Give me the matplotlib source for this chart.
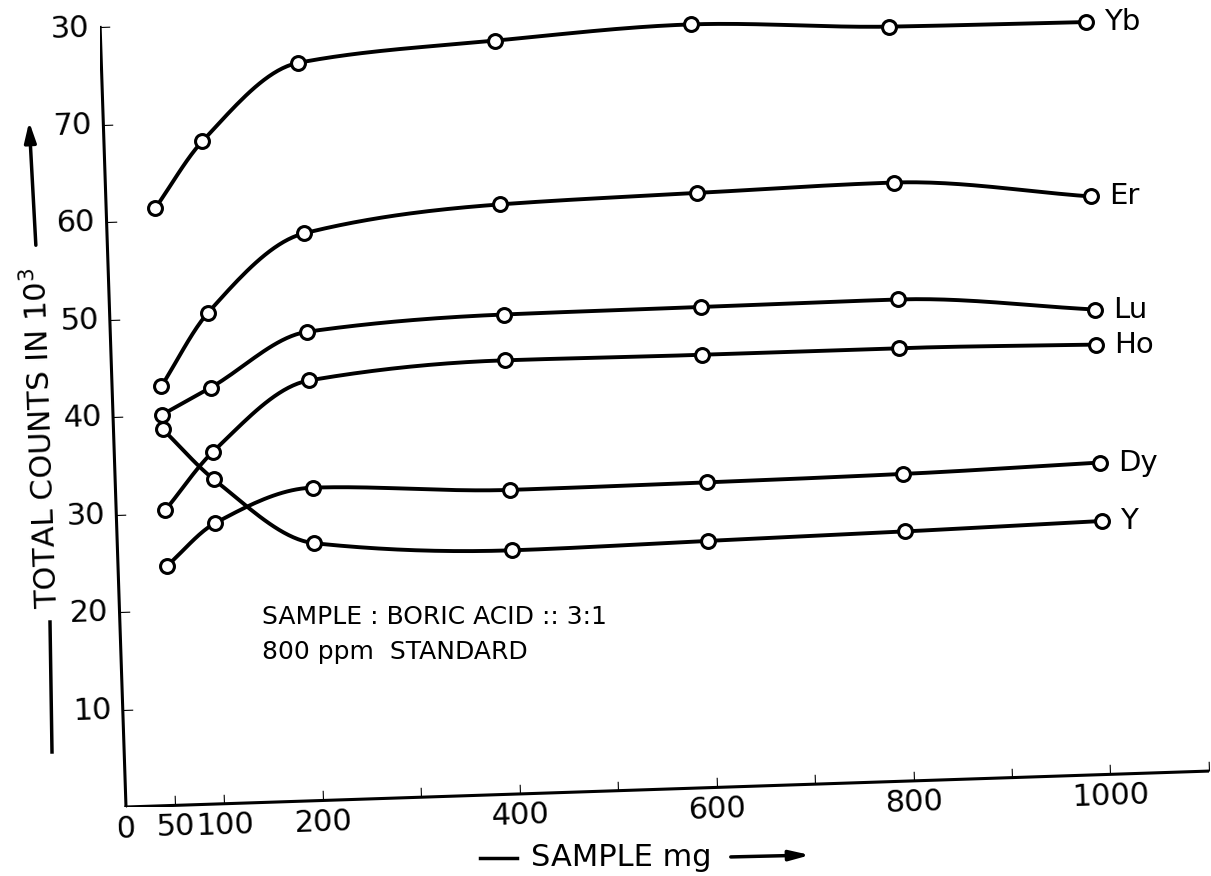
import numpy as np
import matplotlib
matplotlib.use("Agg")
import matplotlib.pyplot as plt
from matplotlib.transforms import Affine2D
import mpl_toolkits.axisartist.floating_axes as floating_axes
from mpl_toolkits.axisartist.grid_finder import FixedLocator, DictFormatter

# values (counts in 10^3)
sample_mg = [50, 100, 200, 400, 600, 800, 1000]
yb = [61.3, 68.0, 75.7, 77.3, 78.3, 77.4, 77.2]
er = [43.0, 50.4, 58.2, 60.5, 61.0, 61.4, 59.3]
lu = [40.1, 42.7, 48.1, 49.2, 49.3, 49.4, 47.7]
ho = [30.3, 36.1, 43.1, 44.5, 44.4, 44.4, 44.1]
dy = [24.6, 28.8, 32.1, 31.2, 31.3, 31.5, 32.0]
y_el = [38.6, 33.3, 26.4, 25.0, 25.3, 25.6, 26.0]
series_names = ["Yb", "Er", "Lu", "Ho", "Dy", "Y"]

x_ticks = [0, 50, 100, 200, 300, 400, 500, 600, 700, 800, 900, 1000, 1100]
x_tick_labels = {0: "0", 50: "50", 100: "100", 200: "200", 400: "400",
                 600: "600", 800: "800", 1000: "1000"}
y_ticks = [10, 20, 30, 40, 50, 60, 70, 80]
# top label is printed as "30" in the scan
y_tick_labels = {10: "10", 20: "20", 30: "30", 40: "40", 50: "50",
                 60: "60", 70: "70", 80: "30"}

W, H = 1211, 876
ORIGIN = (126, 807)  # pixel of (0, 0), from top-left
ROT = 1.9            # the scan is turned a little


def smooth(x, y, n=200):
    # monotone cubic (pchip) just to draw the hand-drawn curve through the points
    x = np.asarray(x, float)
    y = np.asarray(y, float)
    h = np.diff(x)
    d = np.diff(y) / h
    m = np.zeros_like(y)
    for k in range(1, len(x) - 1):
        if d[k - 1] * d[k] > 0:
            w1 = 2 * h[k] + h[k - 1]
            w2 = h[k] + 2 * h[k - 1]
            m[k] = (w1 + w2) / (w1 / d[k - 1] + w2 / d[k])
    m[0] = d[0]
    m[-1] = d[-1]
    xs = np.linspace(x[0], x[-1], n)
    i = np.clip(np.searchsorted(x, xs) - 1, 0, len(x) - 2)
    t = (xs - x[i]) / h[i]
    h00 = 2 * t**3 - 3 * t**2 + 1
    h10 = t**3 - 2 * t**2 + t
    h01 = -2 * t**3 + 3 * t**2
    h11 = t**3 - t**2
    ys = h00 * y[i] + h10 * h[i] * m[i] + h01 * y[i + 1] + h11 * h[i] * m[i + 1]
    return xs, ys


fig = plt.figure(figsize=(W / 100, H / 100), dpi=100)
plt.rcParams["font.family"] = "DejaVu Sans"

tr = Affine2D().scale(0.985, 9.75).rotate_deg(ROT)
grid_helper = floating_axes.GridHelperCurveLinear(
    tr, extremes=(0, 1100, 0, 80),
    grid_locator1=FixedLocator(x_ticks),
    grid_locator2=FixedLocator(y_ticks),
    tick_formatter1=DictFormatter(x_tick_labels),
    tick_formatter2=DictFormatter(y_tick_labels),
)

corners = tr.transform([[0, 0], [1100, 0], [0, 80], [1100, 80]])
xmin, ymin = corners.min(0)
xmax, ymax = corners.max(0)
rect = [(ORIGIN[0] + xmin) / W, (H - ORIGIN[1] + ymin) / H,
        (xmax - xmin) / W, (ymax - ymin) / H]
ax = fig.add_axes(rect, axes_class=floating_axes.FloatingAxes,
                  grid_helper=grid_helper)
# drop the 2% margin floating axes adds, so 1 unit = 1 pixel
ax.set_xlim(xmin, xmax)
ax.set_ylim(ymin, ymax)
ax.axis["top"].set_visible(False)
ax.axis["right"].set_visible(False)
for side, pad in [("bottom", 6), ("left", 8)]:
    ax.axis[side].line.set_linewidth(2.2)
    ax.axis[side].major_ticks.set_ticksize(7)
    ax.axis[side].major_ticks.set_linewidth(2)
    ax.axis[side].major_ticklabels.set_fontsize(22)
    ax.axis[side].major_ticklabels.set_pad(pad)

aux = ax.get_aux_axes(tr)
for name, vals in zip(series_names, [yb, er, lu, ho, dy, y_el]):
    xs, ys = smooth(sample_mg, vals)
    aux.plot(xs, ys, color="black", lw=2.8, solid_capstyle="round")
    aux.plot(sample_mg, vals, "o", ms=10, mfc="white", mec="black", mew=2.2)
    aux.annotate(name, (sample_mg[-1], vals[-1]), xytext=(13, 0),
                 textcoords="offset points", va="center", ha="left",
                 fontsize=21, annotation_clip=False)


def px(x, y):
    return (x, H - y)


# y label with its line and arrow
fig.text(48 / W, 1 - 608 / H, "TOTAL COUNTS IN 10$^3$", rotation=92,
         rotation_mode="anchor", ha="left", va="center", fontsize=22)
fig.add_artist(plt.Line2D([52 / W, 50 / W], [1 - 752 / H, 1 - 622 / H],
                          color="black", lw=2.5))
ax.annotate("", xy=px(29, 119), xytext=px(36, 248), xycoords="figure pixels",
            textcoords="figure pixels", annotation_clip=False,
            arrowprops=dict(arrowstyle="-|>,head_length=1.2,head_width=0.35",
                            lw=2.5, color="black"))

# x label with its line and arrow
fig.text(621 / W, 1 - 858 / H, "SAMPLE mg", ha="center", va="center",
         fontsize=22)
fig.add_artist(plt.Line2D([480 / W, 517 / W], [1 - 858 / H, 1 - 858 / H],
                          color="black", lw=2.5))
ax.annotate("", xy=px(813, 855), xytext=px(728, 857), xycoords="figure pixels",
            textcoords="figure pixels", annotation_clip=False,
            arrowprops=dict(arrowstyle="-|>,head_length=1.2,head_width=0.3",
                            lw=2.5, color="black"))

fig.text(262 / W, 1 - 617 / H, "SAMPLE : BORIC ACID :: 3:1", ha="left",
         va="center", fontsize=18)
fig.text(262 / W, 1 - 652 / H, "800 ppm  STANDARD", ha="left", va="center",
         fontsize=18)

fig.savefig("out.png", dpi=100)
